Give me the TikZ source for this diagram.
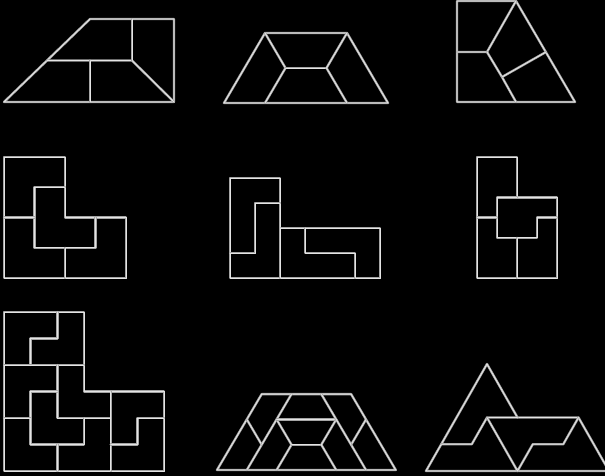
\documentclass[tikz,border=0pt]{standalone}
\definecolor{edgeouter}{RGB}{165,165,165}
\definecolor{edgeinner}{RGB}{228,228,228}
\begin{document}
\begin{tikzpicture}[x=1pt,y=-1pt,
  tile/.style={draw=edgeouter,line width=0.75pt,double=edgeinner,double distance=0.85pt,line join=round,line cap=round}]
\fill[black] (0,0) rectangle (605,476);
\useasboundingbox (0,0) rectangle (605,476);
\clip (0,0) rectangle (605,476);

% Figure 1: right trapezoid
\draw[tile] (4,102) -- (90,19) -- (174,19) -- (174,102) -- cycle;
\draw[tile] (47,60.5) -- (132,60.5) -- (174,102);
\draw[tile] (132,19) -- (132,60.5);
\draw[tile] (90,60.5) -- (90,102);

% Figure 2: triamond trapezoid, 4 pieces
\begin{scope}[shift={(224,103)},x=41pt,y=35pt]
\draw[tile] (0,0) -- (4,0) -- (3,2) -- (1,2) -- cycle;
\draw[tile] (1,2) -- (1.5,1) -- (1,0);
\draw[tile] (1.5,1) -- (2.5,1);
\draw[tile] (3,2) -- (2.5,1) -- (3,0);
\end{scope}

% Figure 3
\draw[tile] (457,1) -- (516,1) -- (575,102) -- (457,102) -- cycle;
\draw[tile] (457,52) -- (487,52) -- (516,1);
\draw[tile] (487,52) -- (502,77) -- (516,102);
\draw[tile] (502,77) -- (546,52);

% Figure 4: L-tromino, 4 pieces
\begin{scope}[shift={(4,157)},x=30.5pt,y=-30.25pt]
\draw[tile] (0,0) -- (2,0) -- (2,2) -- (4,2) -- (4,4) -- (0,4) -- cycle;
\draw[tile] (2,1) -- (1,1) -- (1,3) -- (3,3) -- (3,2);
\draw[tile] (0,2) -- (1,2);
\draw[tile] (2,3) -- (2,4);
\end{scope}

% Figure 5: L-tetromino, 4 pieces
\begin{scope}[shift={(230,178)},x=25pt,y=-25pt]
\draw[tile] (0,0) -- (2,0) -- (2,2) -- (6,2) -- (6,4) -- (0,4) -- cycle;
\draw[tile] (2,1) -- (1,1) -- (1,3) -- (0,3);
\draw[tile] (2,2) -- (2,4);
\draw[tile] (3,2) -- (3,3) -- (5,3) -- (5,4);
\end{scope}

% Figure 6: P-pentomino, 4 pieces
\begin{scope}[shift={(477,157)},x=20pt,y=-20.2pt]
\draw[tile] (0,0) -- (2,0) -- (2,2) -- (4,2) -- (4,6) -- (0,6) -- cycle;
\draw[tile] (2,2) -- (1,2) -- (1,4) -- (3,4) -- (3,3) -- (4,3);
\draw[tile] (0,3) -- (1,3);
\draw[tile] (2,4) -- (2,6);
\end{scope}

% Figure 7: L-tromino, 9 pieces
\begin{scope}[shift={(4,312)},x=26.67pt,y=-26.5pt]
\draw[tile] (0,0) -- (3,0) -- (3,3) -- (6,3) -- (6,6) -- (0,6) -- cycle;
\draw[tile] (2,0) -- (2,1) -- (1,1) -- (1,2);
\draw[tile] (0,2) -- (3,2);
\draw[tile] (2,2) -- (2,4) -- (4,4);
\draw[tile] (4,3) -- (4,6);
\draw[tile] (2,3) -- (1,3) -- (1,5) -- (3,5) -- (3,4);
\draw[tile] (0,4) -- (1,4);
\draw[tile] (2,5) -- (2,6);
\draw[tile] (6,4) -- (5,4) -- (5,5) -- (4,5);
\end{scope}

% Figure 8: triamond trapezoid, 9 pieces
\begin{scope}[shift={(217,470)},x=29.8pt,y=25.3pt]
\draw[tile] (0,0) -- (6,0) -- (4.5,3) -- (1.5,3) -- cycle;
\draw[tile] (1,2) -- (1.5,1) -- (1,0);
\draw[tile] (1.5,1) -- (2,2);
\draw[tile] (2.5,3) -- (2,2) -- (2.5,1) -- (2,0);
\draw[tile] (2,2) -- (4,2);
\draw[tile] (2.5,1) -- (3.5,1);
\draw[tile] (3.5,3) -- (4,2) -- (3.5,1) -- (4,0);
\draw[tile] (5,2) -- (4.5,1) -- (5,0);
\draw[tile] (4.5,1) -- (4,2);
\end{scope}

% Figure 9: sphinx, 4 pieces
\begin{scope}[shift={(426,471)},x=30.5pt,y=26.75pt]
\draw[tile] (0,0) -- (6,0) -- (5,2) -- (3,2) -- (2,4) -- cycle;
\draw[tile] (0.5,1) -- (1.5,1) -- (2,2) -- (3,2);
\draw[tile] (2,2) -- (3,0) -- (3.5,1) -- (4.5,1) -- (5,2);
\end{scope}
\end{tikzpicture}
\end{document}
